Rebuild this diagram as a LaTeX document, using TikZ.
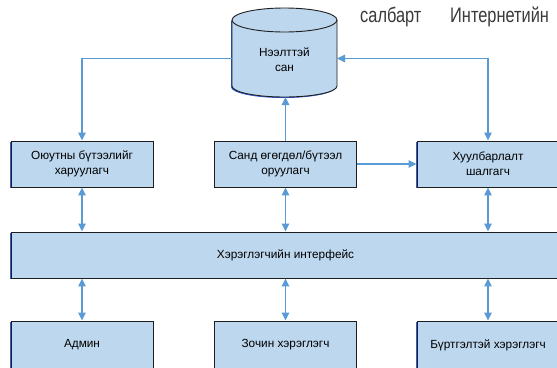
\documentclass[tikz,border=0pt]{standalone}
\usepackage{fontspec}
\setmainfont{Liberation Sans}
\usetikzlibrary{arrows.meta}
\definecolor{boxfill}{HTML}{BDD7EE}
\definecolor{arrowblue}{HTML}{5B9BD5}
\definecolor{shadowblue}{HTML}{2F5BD8}
\definecolor{edgedark}{HTML}{1E1E1E}
\definecolor{topgray}{HTML}{3A3A3A}
\tikzset{
  compbox/.style={draw=edgedark, line width=0.9pt, fill=boxfill,
    preaction={fill=shadowblue, transform canvas={xshift=-0.8pt,yshift=-1.4pt}},
    minimum width=142pt, minimum height=46pt, inner sep=0pt, align=center,
    font=\fontsize{11.8}{15}\selectfont},
  link/.style={draw=arrowblue, line width=1.4pt},
  tip/.style={-{Triangle[length=8pt,width=7.5pt]}},
  tips/.style={{Triangle[length=8pt,width=7.5pt]}-{Triangle[length=8pt,width=7.5pt]}},
  toptext/.style={text=topgray, inner sep=0pt, anchor=base west, font=\fontsize{21}{24}\selectfont}
}
\begin{document}
\begin{tikzpicture}[x=1pt,y=-1pt]
\useasboundingbox (0,0) rectangle (557,367);
\clip (0,0) rectangle (557,367);
\fill[white] (0,0) rectangle (557,367);

% cylinder (database)
\fill[shadowblue] (231,21) -- (231,87) arc[start angle=180,end angle=0,x radius=52.5,y radius=11] -- (336,21) -- cycle;
\fill[boxfill] (232,20) -- (232,86) arc[start angle=180,end angle=0,x radius=52.5,y radius=11] -- (337,20) -- cycle;
\fill[boxfill] (284.5,20) ellipse[x radius=52.5,y radius=12];
\draw[edgedark, line width=0.9pt] (284.5,20) ellipse[x radius=52.5,y radius=12];
\draw[edgedark, line width=0.9pt] (232,20) -- (232,86) arc[start angle=180,end angle=0,x radius=52.5,y radius=11] -- (337,20);
\node[inner sep=0pt, align=center, font=\fontsize{11.8}{15}\selectfont] (db) at (284.5,59.5) {Нээлттэй\\сан};
\coordinate (dbW) at (232,58.5);
\coordinate (dbE) at (337,58.5);
\coordinate (dbS) at (285.5,97);

% second row
\node[compbox] (b1) at (82,164) {Оюутны бүтээлийг\\харуулагч};
\node[compbox] (b2) at (285.5,164) {Санд өгөгдөл/бүтээл\\оруулагч};
\node[compbox] (b3) at (488,164) {Хуулбарлалт\\шалгагч};

% interface bar
\node[compbox, minimum width=549pt] (ui) at (285.5,255) {Хэрэглэгчийн интерфейс};

% bottom row
\node[compbox, minimum height=48pt] (u1) at (82,345) {Админ};
\node[compbox, minimum height=48pt] (u2) at (285.5,345) {Зочин хэрэглэгч};
\node[compbox, minimum height=48pt] (u3) at (488,345) {Бүртгэлтэй хэрэглэгч};

\coordinate (cL) at (82,58.5);
\coordinate (cR) at (488,58.5);

% connectors
\draw[link, tip] (dbW) -- (cL) -- (b1.north);
\draw[link, tips] (dbE) -- (cR) -- (b3.north);
\draw[link, tip] (b2.north) -- (dbS);
\draw[link, tip] (b2.east) -- (b3.west);
\draw[link, tips] (b1.south) -- (b1.south |- ui.north);
\draw[link, tips] (b2.south) -- (b2.south |- ui.north);
\draw[link, tips] (b3.south) -- (b3.south |- ui.north);
\draw[link, tips] (u1.north |- ui.south) -- (u1.north);
\draw[link, tips] (u2.north |- ui.south) -- (u2.north);
\draw[link, tips] (u3.north |- ui.south) -- (u3.north);

% fragment of surrounding text
\node[toptext] (t1) at (360,22) {\scalebox{0.78}[1]{салбарт}};
\node[toptext] (t2) at (450,22) {\scalebox{0.78}[1]{Интернетийн}};
\end{tikzpicture}
\end{document}
